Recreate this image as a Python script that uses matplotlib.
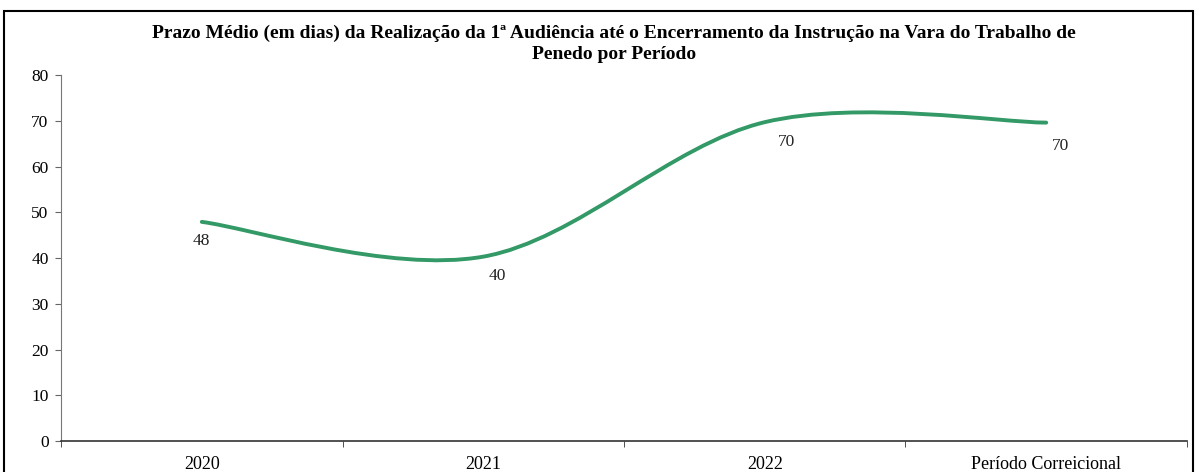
import matplotlib
matplotlib.use("Agg")
import matplotlib.pyplot as plt
import numpy as np
from matplotlib.path import Path
from matplotlib.patches import PathPatch, Rectangle

################################ data
periodos = ["2020", "2021", "2022", "Período Correicional"]
prazo_medio = [47.9, 40.3, 69.7, 69.6]

titulo = ("Prazo Médio (em dias) da Realização da 1ª Audiência até o Encerramento da Instrução na Vara do Trabalho de\n"
          "Penedo por Período")

# label offsets in points (dx, dy) - style only
label_offsets = [(0, -14), (10, -14), (16, -14), (10, -17)]

cor = "#339966"

plt.rcParams["font.family"] = ["Liberation Serif", "DejaVu Serif"]

fig = plt.figure(figsize=(11.97, 4.72), dpi=100)
ax = fig.add_axes([0.051, 0.0657, 0.9406, 0.7753])

################################ smooth line (excel-like catmull-rom bezier)
x = np.arange(len(prazo_medio), dtype=float)
y = np.array(prazo_medio, dtype=float)
n = len(x)
verts = [(x[0], y[0])]
codes = [Path.MOVETO]
for i in range(n - 1):
    p0 = np.array([x[max(i - 1, 0)], y[max(i - 1, 0)]])
    p1 = np.array([x[i], y[i]])
    p2 = np.array([x[i + 1], y[i + 1]])
    p3 = np.array([x[min(i + 2, n - 1)], y[min(i + 2, n - 1)]])
    c1 = p1 + (p2 - p0) / 6.0
    c2 = p2 - (p3 - p1) / 6.0
    verts += [tuple(c1), tuple(c2), tuple(p2)]
    codes += [Path.CURVE4, Path.CURVE4, Path.CURVE4]
patch = PathPatch(Path(verts, codes), facecolor="none", edgecolor=cor, lw=2.8, capstyle="round")
ax.add_patch(patch)

for xi, yi, (dx, dy) in zip(x, y, label_offsets):
    ax.annotate(f"{yi:.0f}", (xi, yi), xytext=(dx, dy), textcoords="offset points",
                ha="center", va="center", fontsize=12.5, color="#222222")

################################ axes
ax.set_xlim(-0.5, n - 0.5)
ax.set_ylim(0, 80)
ax.set_yticks(np.arange(0, 81, 10))
ax.set_xticks(x)
ax.set_xticklabels(periodos, fontsize=13)
ax.set_xticks(np.arange(-0.5, n, 1.0), minor=True)
ax.tick_params(axis="x", which="major", length=0, pad=11)
ax.tick_params(axis="x", which="minor", length=4, direction="out", color="#333333")
ax.tick_params(axis="y", length=4, direction="out", labelsize=12.5, color="#666666", pad=5)

for s in ["top", "right"]:
    ax.spines[s].set_visible(False)
ax.spines["left"].set_color("#777777")
ax.spines["bottom"].set_color("#333333")
ax.spines["bottom"].set_linewidth(1.2)

fig.text(0.513, 0.908, titulo, ha="center", va="center", fontsize=14, fontweight="bold",
         linespacing=1.3)

# outer frame
fig.patches.append(Rectangle((4 / 1197, -0.1), 1189 / 1197, 1.1 - 11 / 472, transform=fig.transFigure,
                             fill=False, edgecolor="black", lw=1.5))

fig.savefig("out.png", dpi=100)
